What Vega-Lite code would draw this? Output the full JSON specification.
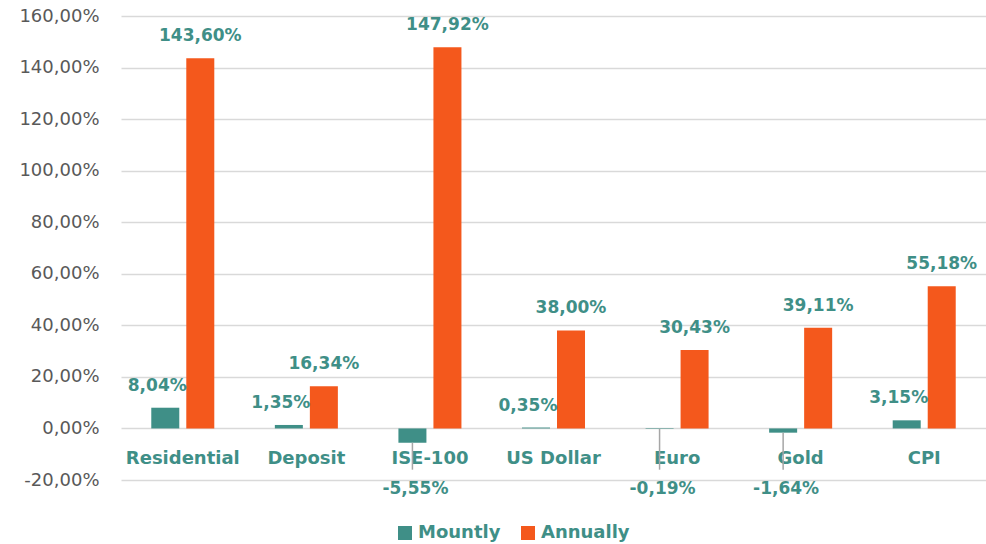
{
  "$schema": "https://vega.github.io/schema/vega-lite/v6.json",
  "width": 865,
  "height": 464,
  "autosize": {"type": "none"},
  "padding": {"left": 121, "top": 16, "right": 0, "bottom": 64},
  "background": "white",
  "config": {
    "view": {"stroke": null},
    "font": "DejaVu Sans",
    "locale": {"number": {"decimal": ",", "thousands": ".", "grouping": [3], "currency": ["", " TL"], "minus": "-", "percent": "%"}}
  },
  "data": {
    "values": [
      {"category": "Residential", "series": "Mountly", "value": 0.0804},
      {"category": "Residential", "series": "Annually", "value": 1.4360},
      {"category": "Deposit", "series": "Mountly", "value": 0.0135},
      {"category": "Deposit", "series": "Annually", "value": 0.1634},
      {"category": "ISE-100", "series": "Mountly", "value": -0.0555},
      {"category": "ISE-100", "series": "Annually", "value": 1.4792},
      {"category": "US Dollar", "series": "Mountly", "value": 0.0035},
      {"category": "US Dollar", "series": "Annually", "value": 0.3800},
      {"category": "Euro", "series": "Mountly", "value": -0.0019},
      {"category": "Euro", "series": "Annually", "value": 0.3043},
      {"category": "Gold", "series": "Mountly", "value": -0.0164},
      {"category": "Gold", "series": "Annually", "value": 0.3911},
      {"category": "CPI", "series": "Mountly", "value": 0.0315},
      {"category": "CPI", "series": "Annually", "value": 0.5518}
    ]
  },
  "encoding": {
    "x": {
      "field": "category",
      "type": "nominal",
      "sort": null,
      "scale": {"paddingInner": 0.49, "paddingOuter": 0.245},
      "axis": {
        "title": null,
        "orient": "bottom",
        "offset": -52,
        "domain": false,
        "ticks": false,
        "labelAngle": 0,
        "labelPadding": 21,
        "labelFontSize": 18,
        "labelFontWeight": "bold",
        "labelColor": "#3F8F87",
        "labelBaseline": "top"
      }
    },
    "xOffset": {
      "field": "series",
      "type": "nominal",
      "sort": ["Mountly", "Annually"],
      "scale": {"paddingInner": 0.2, "paddingOuter": 0}
    }
  },
  "layer": [
    {
      "mark": {"type": "bar"},
      "encoding": {
        "y": {
          "field": "value",
          "type": "quantitative",
          "scale": {"domain": [-0.2, 1.6], "nice": false, "zero": false},
          "axis": {
            "title": null,
            "values": [-0.2, 0, 0.2, 0.4, 0.6, 0.8, 1.0, 1.2, 1.4, 1.6],
            "format": ".2%",
            "labelFontSize": 18,
            "labelColor": "#595959",
            "labelPadding": 22,
            "ticks": false,
            "domain": false,
            "gridColor": "#d9d9d9",
            "gridWidth": 1.5
          }
        },
        "color": {
          "field": "series",
          "type": "nominal",
          "sort": ["Mountly", "Annually"],
          "scale": {"domain": ["Mountly", "Annually"], "range": ["#3F8F87", "#F4581C"]},
          "legend": {
            "title": null,
            "orient": "none",
            "direction": "horizontal",
            "legendX": 275,
            "legendY": 508,
            "padding": 0,
            "symbolType": "square",
            "symbolSize": 196,
            "symbolStrokeWidth": 0,
            "labelFontSize": 18,
            "labelFontWeight": "bold",
            "labelColor": "#3F8F87",
            "labelOffset": 4,
            "columnPadding": 18
          }
        }
      }
    },
    {
      "transform": [{"filter": "datum.series == 'Mountly' && datum.value < 0"}],
      "mark": {"type": "rule", "color": "#a6a6a6", "strokeWidth": 1.5},
      "encoding": {
        "y": {"field": "value", "type": "quantitative"},
        "y2": {"datum": -0.16}
      }
    },
    {
      "transform": [{"filter": "datum.series == 'Annually'"}],
      "mark": {"type": "text", "baseline": "alphabetic", "dy": -17, "fontSize": 17, "fontWeight": "bold", "color": "#3F8F87"},
      "encoding": {
        "y": {"field": "value", "type": "quantitative"},
        "text": {"field": "value", "type": "quantitative", "format": ".2%"}
      }
    },
    {
      "transform": [{"filter": "datum.series == 'Mountly' && datum.value >= 0"}],
      "mark": {"type": "text", "baseline": "alphabetic", "dy": -17, "dx": -8, "fontSize": 17, "fontWeight": "bold", "color": "#3F8F87"},
      "encoding": {
        "y": {"field": "value", "type": "quantitative"},
        "text": {"field": "value", "type": "quantitative", "format": ".2%"}
      }
    },
    {
      "transform": [{"filter": "datum.series == 'Mountly' && datum.value < 0"}],
      "mark": {"type": "text", "baseline": "top", "dy": 1, "dx": 3, "fontSize": 17, "fontWeight": "bold", "color": "#3F8F87"},
      "encoding": {
        "y": {"datum": -0.2},
        "text": {"field": "value", "type": "quantitative", "format": ".2%"}
      }
    }
  ]
}
